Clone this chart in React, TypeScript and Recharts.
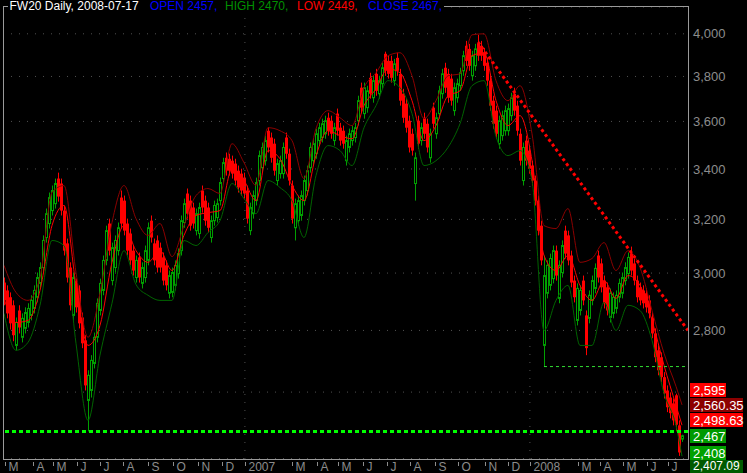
import React from 'react';
import {
  ComposedChart,
  Bar,
  Line,
  XAxis,
  YAxis,
  CartesianGrid,
  ReferenceLine,
} from 'recharts';

const W = 747;
const H = 473;
const FONT = '"Liberation Sans", Arial, sans-serif';

// FW20 daily, Mar 2006 - 17 Jul 2008, one candle per ~2.6 sessions
const opens = [
  2966, 2938, 2914, 2886, 2750, 2868, 2777, 2807, 2827, 2851,
  2875, 2914, 2963, 3020, 3131, 3184, 3234, 3261, 3361, 3341,
  3234, 3109, 3020, 2851, 2963, 2938, 2844, 2767, 2574, 2605,
  2691, 2777, 2868, 2938, 3046, 3184, 2973, 3020, 3082, 3285,
  3273, 3184, 3146, 3082, 2984, 3057, 2963, 2984, 3046, 3195,
  3109, 3120, 3093, 3057, 3028, 2928, 2931, 2956, 2998, 3082,
  3188, 3301, 3273, 3246, 3157, 3146, 3313, 3273, 3246, 3131,
  3195, 3207, 3273, 3361, 3446, 3442, 3434, 3422, 3393, 3381,
  3365, 3313, 3157, 3222, 3273, 3353, 3405, 3434, 3560, 3531,
  3505, 3353, 3381, 3381, 3531, 3463, 3333, 3168, 3195, 3215,
  3273, 3313, 3405, 3434, 3463, 3518, 3531, 3547, 3616, 3603,
  3518, 3634, 3573, 3560, 3434, 3489, 3518, 3531, 3603, 3749,
  3634, 3660, 3794, 3704, 3812, 3722, 3767, 3905, 3872, 3872,
  3781, 3886, 3812, 3722, 3678, 3603, 3547, 3341, 3603, 3518,
  3616, 3590, 3446, 3660, 3547, 3634, 3722, 3840, 3812, 3790,
  3647, 3704, 3758, 3826, 3943, 3928, 3803, 3849, 3952, 3943,
  3910, 3863, 3781, 3691, 3647, 3505, 3539, 3560, 3560, 3625,
  3722, 3669, 3547, 3353, 3518, 3476, 3414, 3353, 3273, 3176,
  2750, 2928, 2956, 2980, 3082, 2910, 3002, 3157, 3139, 3064,
  2973, 2834, 2868, 2973, 2851, 2841, 2903, 2945, 3064, 3035,
  2973, 2949, 2844, 2858, 2875, 2914, 2928, 2973, 2998, 3071,
  3035, 2973, 2949, 2938, 2928, 2903, 2844, 2790, 2734, 2711,
  2647, 2605, 2583, 2565, 2590, 2498, 2457,
];

const highs = [
  2984, 2956, 2931, 2903, 2844, 2886, 2858, 2879, 2893, 2921,
  2956, 3002, 3039, 3139, 3242, 3305, 3333, 3361, 3385, 3361,
  3254, 3127, 3039, 3002, 2980, 2956, 2861, 2784, 2669, 2718,
  2793, 2910, 2980, 3064, 3176, 3203, 3112, 3139, 3188, 3313,
  3293, 3203, 3165, 3101, 3064, 3075, 3039, 3101, 3188, 3215,
  3127, 3139, 3112, 3075, 3046, 3009, 3020, 3046, 3090, 3215,
  3281, 3321, 3293, 3265, 3242, 3265, 3333, 3293, 3265, 3215,
  3273, 3281, 3365, 3446, 3468, 3463, 3455, 3442, 3414, 3401,
  3385, 3333, 3265, 3313, 3365, 3476, 3510, 3539, 3575, 3552,
  3526, 3442, 3455, 3510, 3552, 3484, 3353, 3281, 3293, 3313,
  3373, 3414, 3510, 3526, 3569, 3594, 3612, 3625, 3638, 3625,
  3594, 3656, 3594, 3582, 3539, 3569, 3582, 3594, 3713, 3772,
  3772, 3758, 3817, 3803, 3835, 3803, 3863, 3915, 3896, 3896,
  3881, 3910, 3835, 3744, 3700, 3625, 3569, 3468, 3625, 3594,
  3638, 3612, 3569, 3682, 3638, 3758, 3835, 3863, 3835, 3812,
  3772, 3790, 3840, 3919, 3966, 3952, 3919, 3952, 3995, 3966,
  3933, 3886, 3803, 3713, 3669, 3625, 3647, 3669, 3678, 3726,
  3749, 3691, 3569, 3510, 3539, 3497, 3434, 3373, 3293, 3195,
  3064, 3046, 3071, 3101, 3101, 3046, 3120, 3176, 3157, 3082,
  2991, 2963, 2956, 2991, 2868, 2938, 2991, 3035, 3082, 3053,
  2991, 2966, 2945, 2931, 2938, 2980, 3002, 3039, 3075, 3097,
  3053, 2991, 2966, 2956, 2945, 2921, 2861, 2807, 2750, 2727,
  2663, 2621, 2599, 2580, 2595, 2513, 2470,
];

const lows = [
  2886, 2841, 2803, 2764, 2734, 2790, 2760, 2790, 2810, 2834,
  2858, 2896, 2945, 3002, 3112, 3165, 3215, 3242, 3269, 3215,
  3064, 2966, 2868, 2834, 2861, 2807, 2741, 2605, 2480, 2583,
  2675, 2760, 2851, 2921, 3028, 3064, 2956, 3002, 3064, 3165,
  3139, 3064, 3028, 2991, 2966, 2966, 2945, 2966, 3028, 3112,
  3028, 3002, 3002, 2956, 2938, 2910, 2914, 2938, 2980, 3064,
  3168, 3203, 3157, 3165, 3139, 3127, 3226, 3176, 3150, 3112,
  3176, 3188, 3254, 3341, 3373, 3373, 3361, 3333, 3305, 3293,
  3281, 3184, 3140, 3203, 3254, 3333, 3385, 3414, 3468, 3426,
  3373, 3333, 3361, 3361, 3442, 3333, 3184, 3120, 3176, 3195,
  3254, 3293, 3385, 3414, 3442, 3497, 3510, 3526, 3539, 3526,
  3497, 3539, 3497, 3484, 3414, 3468, 3497, 3510, 3582, 3638,
  3612, 3638, 3700, 3682, 3713, 3700, 3744, 3803, 3790, 3772,
  3758, 3803, 3669, 3594, 3552, 3468, 3455, 3273, 3484, 3497,
  3526, 3468, 3426, 3569, 3526, 3612, 3700, 3726, 3682, 3669,
  3625, 3682, 3735, 3803, 3849, 3826, 3781, 3826, 3872, 3872,
  3826, 3758, 3647, 3569, 3526, 3484, 3518, 3539, 3539, 3603,
  3625, 3539, 3414, 3333, 3414, 3381, 3333, 3254, 3139, 3028,
  2681, 2910, 2938, 2963, 2973, 2893, 2984, 3053, 3028, 2949,
  2896, 2817, 2851, 2886, 2718, 2824, 2886, 2928, 2966, 2931,
  2875, 2851, 2827, 2841, 2858, 2896, 2910, 2956, 2980, 2991,
  2956, 2896, 2886, 2875, 2861, 2841, 2774, 2695, 2653, 2631,
  2580, 2538, 2519, 2498, 2480, 2408, 2449,
];

const closes = [
  2903, 2858, 2824, 2784, 2827, 2810, 2841, 2861, 2875, 2903,
  2938, 2984, 3020, 3120, 3222, 3285, 3313, 3341, 3289, 3234,
  3082, 2984, 2886, 2984, 2879, 2824, 2757, 2621, 2653, 2701,
  2777, 2893, 2963, 3046, 3157, 3082, 3093, 3120, 3168, 3184,
  3157, 3082, 3046, 3009, 3046, 2984, 3020, 3082, 3168, 3131,
  3046, 3020, 3020, 2973, 2956, 2991, 3002, 3028, 3071, 3195,
  3261, 3222, 3176, 3184, 3222, 3246, 3246, 3195, 3168, 3195,
  3254, 3261, 3345, 3426, 3393, 3393, 3381, 3353, 3325, 3313,
  3301, 3203, 3246, 3293, 3345, 3455, 3489, 3518, 3489, 3446,
  3393, 3422, 3434, 3489, 3463, 3353, 3203, 3261, 3273, 3293,
  3353, 3393, 3489, 3505, 3547, 3573, 3590, 3603, 3560, 3547,
  3573, 3560, 3518, 3505, 3518, 3547, 3560, 3573, 3691, 3660,
  3749, 3735, 3722, 3781, 3735, 3781, 3840, 3826, 3812, 3794,
  3858, 3826, 3691, 3616, 3573, 3489, 3476, 3446, 3505, 3573,
  3547, 3489, 3547, 3590, 3616, 3735, 3812, 3749, 3704, 3691,
  3749, 3767, 3817, 3896, 3872, 3849, 3896, 3928, 3896, 3896,
  3849, 3781, 3669, 3590, 3547, 3603, 3625, 3647, 3656, 3704,
  3647, 3560, 3434, 3489, 3434, 3401, 3353, 3273, 3157, 3046,
  2991, 3028, 3053, 3082, 2991, 3028, 3101, 3071, 3046, 2966,
  2914, 2945, 2938, 2903, 2741, 2921, 2973, 3017, 2984, 2949,
  2893, 2868, 2928, 2914, 2921, 2963, 2984, 3020, 3057, 3009,
  2973, 2914, 2903, 2893, 2879, 2858, 2790, 2711, 2669, 2647,
  2596, 2553, 2535, 2513, 2500, 2418, 2467,
];

// indicator lines, read every 4th candle plus the last one
const upperBand = [
  3028, 2931, 2903, 2984, 3305, 3333, 3002, 2777, 2928, 3188,
  3333, 3203, 3139, 3184, 3060, 3176, 3293, 3321, 3301, 3505,
  3426, 3333, 3573, 3560, 3518, 3361, 3569, 3647, 3616, 3582,
  3749, 3817, 3896, 3910, 3803, 3612, 3691, 3803, 3812, 3995,
  4000, 3781, 3691, 3758, 3547, 3176, 3165, 3242, 3039, 3053,
  3112, 3009, 3082, 3020, 2868, 2724, 2618, 2560.35,
];

const midLine = [
  2910, 2827, 2834, 2938, 3176, 3254, 2956, 2750, 2817, 3039,
  3176, 3082, 3039, 3082, 3009, 3139, 3215, 3226, 3234, 3401,
  3353, 3273, 3476, 3442, 3333, 3273, 3455, 3560, 3539, 3526,
  3669, 3744, 3835, 3817, 3691, 3518, 3582, 3713, 3735, 3896,
  3910, 3691, 3582, 3625, 3434, 3064, 3009, 3064, 2956, 2903,
  2973, 2910, 2991, 2956, 2834, 2685, 2559, 2498.63,
];

const lowerBand = [
  2858, 2734, 2760, 2886, 3120, 3101, 2757, 2513, 2718, 2893,
  3082, 2959, 2921, 2903, 2903, 3120, 3101, 3150, 3195, 3341,
  3281, 3222, 3353, 3325, 3273, 3131, 3373, 3497, 3476, 3414,
  3573, 3669, 3781, 3749, 3634, 3414, 3434, 3489, 3590, 3758,
  3781, 3535, 3455, 3476, 3353, 2800, 2903, 2956, 2750, 2750,
  2896, 2800, 2886, 2868, 2767, 2596, 2498, 2407.09,
];

const monthTicks = [
  0.3, 9.7, 16.3, 24.3, 32, 39.7, 48, 56.3, 64.7, 72.7, 80.3,
  96, 104.3, 111.3, 119.7, 127.7, 135.3, 143.7, 151.3, 160.3, 168, 175.3,
  191.3, 198.7, 206.3, 214.3, 221.3,
];
const monthLabels = [
  'M', 'A', 'M', 'J', 'J', 'A', 'S', 'O', 'N', 'D', '2007',
  'M', 'A', 'M', 'J', 'J', 'A', 'S', 'O', 'N', 'D', '2008',
  'M', 'A', 'M', 'J', 'J',
];
const yearStarts = [80.3, 175.3];

const yTicks = [2400, 2600, 2800, 3000, 3200, 3400, 3600, 3800, 4000];

const supportLevel = 2480;
const januaryLow = 2681;
const januaryLowBar = 180;
const trendStart = { i: 158, v: 3960 };
const trendEnd = { i: 228, v: 2800 };

const lastBar = { open: 2457, high: 2470, low: 2449, close: 2467 };
const tagValues = [2595, 2560.35, 2498.63, 2467, 2408, 2407.09];
const tagStyles = [
  { bg: '#ff0000', fg: '#ffffff', shift: -4, w: 36, h: 14, fs: 13, base: 11.6 },
  { bg: '#8c0000', fg: '#ffffff', shift: 0, w: 53, h: 14, fs: 13, base: 11.6 },
  { bg: '#ff0000', fg: '#ffffff', shift: -5, w: 53, h: 14, fs: 13, base: 11.6 },
  { bg: '#009a00', fg: '#ffffff', shift: 0, w: 36, h: 14, fs: 13, base: 11.6 },
  { bg: '#00a000', fg: '#ffffff', shift: -3, w: 36, h: 14, fs: 13, base: 11.6 },
  { bg: '#005a00', fg: '#ffffff', shift: 11, w: 53, h: 13, fs: 12, base: 10.3 },
];

const step = 4;
const data = opens.map((open, i) => {
  const k = i === opens.length - 1 ? upperBand.length - 1 : i % step === 0 ? i / step : -1;
  return {
    i,
    open,
    high: highs[i],
    low: lows[i],
    close: closes[i],
    upper: k >= 0 ? upperBand[k] : null,
    mid: k >= 0 ? midLine[k] : null,
    lower: k >= 0 ? lowerBand[k] : null,
  };
});

function fmt(v: number) {
  const [a, b] = String(v).split('.');
  const int = a.replace(/\B(?=(\d{3})+(?!\d))/g, ',');
  return b ? `${int}.${b}` : int;
}

function Candle(props: any) {
  const { x, y, width, height, payload } = props;
  if (x == null || y == null || !payload) return null;
  const top = Math.min(y, y + height);
  const bot = Math.max(y, y + height);
  const { open, close, high, low } = payload;
  const span = Math.log(high) - Math.log(low);
  const py = (v: number) =>
    span > 0 ? top + ((Math.log(high) - Math.log(v)) / span) * (bot - top) : top;
  const cx = Math.round(x + width / 2);
  const up = close >= open;
  const color = up ? '#00a000' : '#ff0000';
  const yo = py(open);
  const yc = py(close);
  const bTop = Math.min(yo, yc);
  const bH = Math.max(Math.abs(yo - yc), 1);
  return (
    <g>
      <line x1={cx + 0.5} x2={cx + 0.5} y1={top} y2={bot} stroke={color} />
      {up ? (
        <rect x={cx - 0.5} y={bTop} width={2} height={bH} fill="#000" stroke={color} />
      ) : (
        <rect x={cx - 1} y={bTop} width={3} height={bH} fill={color} />
      )}
    </g>
  );
}

function MonthTick(props: any) {
  const { x, y, payload } = props;
  const idx = monthTicks.indexOf(payload.value);
  const px = Math.round(x) + 0.5;
  return (
    <g>
      <line x1={px} x2={px} y1={y + 3} y2={y + 7} stroke="#8c8c8c" />
      <text x={px + 3} y={y + 11.5} fill="#8c8c8c" fontSize={12} fontFamily={FONT}>
        {monthLabels[idx]}
      </text>
    </g>
  );
}

function PriceTag(props: any) {
  const { viewBox, tagText, tagStyle } = props;
  if (!viewBox || !tagStyle) return null;
  const x = viewBox.x + viewBox.width + 2;
  const top = Math.round(viewBox.y + tagStyle.shift - 7);
  return (
    <g>
      <rect x={x} y={top} width={tagStyle.w} height={tagStyle.h} fill={tagStyle.bg} />
      <text
        x={x + 3}
        y={top + tagStyle.base}
        fill={tagStyle.fg}
        fontSize={tagStyle.fs}
        fontFamily={FONT}
      >
        {tagText}
      </text>
    </g>
  );
}

const header = [
  { text: 'FW20 Daily, 2008-07-17', x: 9.5, color: '#ffffff' },
  { text: `OPEN ${lastBar.open},`, x: 150, color: '#0000ff' },
  { text: `HIGH ${lastBar.high},`, x: 225, color: '#009000' },
  { text: `LOW ${lastBar.low},`, x: 297, color: '#ff0000' },
  { text: `CLOSE ${lastBar.close},`, x: 368, color: '#0000ff' },
];

export default function App() {
  return (
    <div
      style={{
        position: 'absolute',
        left: 0,
        top: 0,
        width: W,
        height: H,
        background: '#000',
        overflow: 'hidden',
      }}
    >
      <ComposedChart
        width={W}
        height={H}
        data={data}
        margin={{ top: 7, right: 0, bottom: 0, left: 3 }}
      >
        <CartesianGrid vertical={false} stroke="#505050" strokeDasharray="1 7" />
        <XAxis
          dataKey="i"
          type="number"
          domain={[-0.333, 228]}
          allowDataOverflow
          ticks={monthTicks}
          interval={0}
          tick={(p: any) => <MonthTick {...p} />}
          tickLine={false}
          axisLine={false}
          tickSize={0}
          tickMargin={0}
          height={14}
        />
        <YAxis
          orientation="right"
          type="number"
          scale="log"
          domain={[2399, 4131]}
          allowDataOverflow
          ticks={yTicks}
          interval={0}
          width={59}
          tickLine={false}
          axisLine={false}
          tickSize={0}
          tickMargin={5}
          tick={{ fill: '#8c8c8c', fontSize: 13, fontFamily: FONT }}
          tickFormatter={(v: number) => (v >= 2800 ? fmt(v) : '')}
        />
        {yearStarts.map((v) => (
          <ReferenceLine key={v} x={v} stroke="#505050" strokeDasharray="1 7" />
        ))}
        <Bar
          dataKey={(d: any) => [d.low, d.high]}
          barSize={3}
          shape={(p: any) => <Candle {...p} />}
          isAnimationActive={false}
        />
        <Line
          dataKey="upper"
          type="monotone"
          stroke="#8c0000"
          strokeWidth={1}
          dot={false}
          connectNulls
          isAnimationActive={false}
        />
        <Line
          dataKey="mid"
          type="monotone"
          stroke="#ff0000"
          strokeWidth={1}
          dot={false}
          connectNulls
          isAnimationActive={false}
        />
        <Line
          dataKey="lower"
          type="monotone"
          stroke="#006400"
          strokeWidth={1}
          dot={false}
          connectNulls
          isAnimationActive={false}
        />
        <ReferenceLine
          y={supportLevel}
          stroke="#00ff00"
          strokeWidth={3}
          strokeDasharray="4 3"
        />
        <ReferenceLine
          segment={[
            { x: januaryLowBar, y: januaryLow },
            { x: 228, y: januaryLow },
          ]}
          stroke="#33dd33"
          strokeDasharray="3 3"
        />
        <ReferenceLine
          segment={[
            { x: trendStart.i, y: trendStart.v },
            { x: trendEnd.i, y: trendEnd.v },
          ]}
          stroke="#ff0000"
          strokeWidth={3}
          strokeDasharray="3 3"
        />
        {tagValues.map((v, k) => (
          <ReferenceLine
            key={v}
            y={v}
            stroke="transparent"
            label={<PriceTag tagText={fmt(v)} tagStyle={tagStyles[k]} />}
          />
        ))}
      </ComposedChart>
      <svg
        width={W}
        height={H}
        style={{ position: 'absolute', left: 0, top: 0, pointerEvents: 'none' }}
      >
        <g stroke="#9a9a9a" strokeWidth={1}>
          <line x1={3.5} x2={3.5} y1={6.5} y2={459.5} />
          <line x1={3} x2={689} y1={6.5} y2={6.5} />
          <line x1={688.5} x2={688.5} y1={6.5} y2={459.5} />
          <line x1={3} x2={689} y1={459.5} y2={459.5} />
        </g>
        <rect x={8} y={0} width={436} height={13} fill="#000" />
        {header.map((h) => (
          <text key={h.text} x={h.x} y={10.3} fill={h.color} fontSize={12} fontFamily={FONT}>
            {h.text}
          </text>
        ))}
      </svg>
    </div>
  );
}
